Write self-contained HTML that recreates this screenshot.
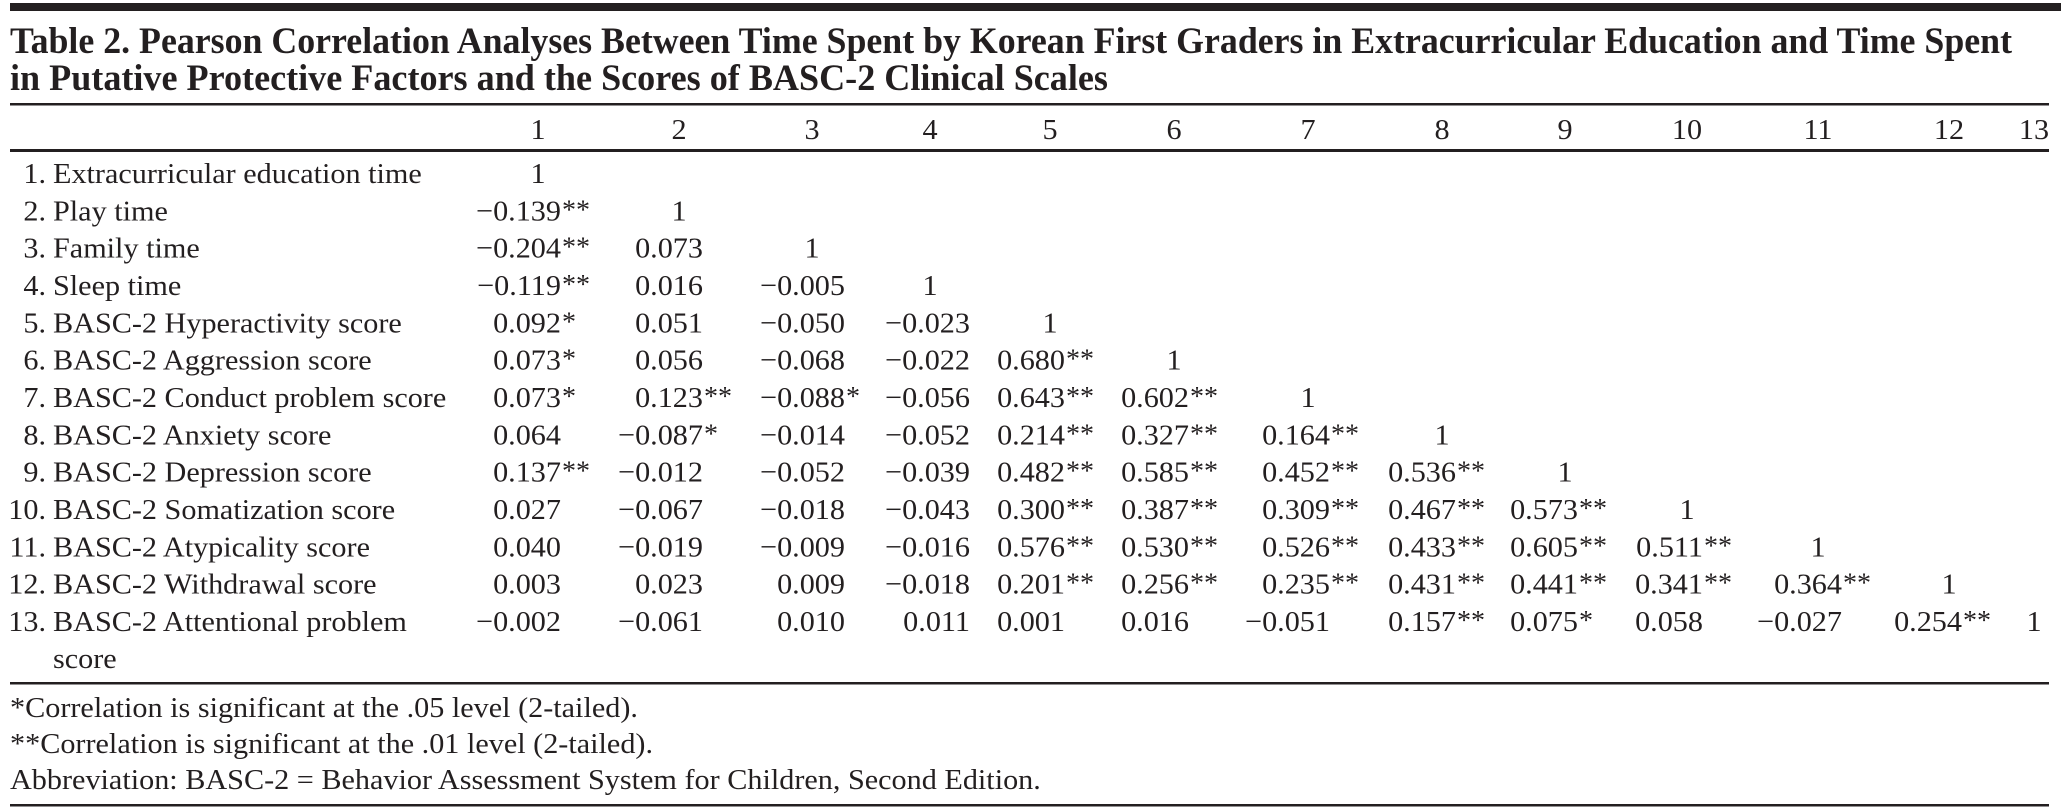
<!DOCTYPE html>
<html><head><meta charset="utf-8"><style>
html,body{margin:0;padding:0;background:#fff;}
svg{display:block;}
text{font-family:"Liberation Serif",serif;fill:#231f20;}
</style></head><body>
<svg id="tbl" width="2061" height="810" viewBox="0 0 2061 810" xmlns="http://www.w3.org/2000/svg">
<rect x="10" y="3" width="2051" height="8" fill="#231f20"/>
<text id="t1" x="10" y="53" font-size="37" font-weight="bold" textLength="2002" lengthAdjust="spacingAndGlyphs">Table 2. Pearson Correlation Analyses Between Time Spent by Korean First Graders in Extracurricular Education and Time Spent</text>
<text id="t2" x="10" y="90" font-size="37" font-weight="bold" textLength="1098" lengthAdjust="spacingAndGlyphs">in Putative Protective Factors and the Scores of BASC-2 Clinical Scales</text>
<rect x="10" y="103" width="2039" height="2.5" fill="#231f20"/>
<rect x="10" y="149" width="2039" height="3" fill="#231f20"/>
<rect x="10" y="682" width="2039" height="2.5" fill="#231f20"/>
<rect x="10" y="804" width="2039" height="2.5" fill="#231f20"/>
<g id="body"></g>
</svg>
<script>
const colHeaders = ["1","2","3","4","5","6","7","8","9","10","11","12","13"];
const rowNums = ["1.","2.","3.","4.","5.","6.","7.","8.","9.","10.","11.","12.","13."];
const rowLabels = ["Extracurricular education time","Play time","Family time","Sleep time","BASC-2 Hyperactivity score","BASC-2 Aggression score","BASC-2 Conduct problem score","BASC-2 Anxiety score","BASC-2 Depression score","BASC-2 Somatization score","BASC-2 Atypicality score","BASC-2 Withdrawal score","BASC-2 Attentional problem"];
const values = [
 [],
 ["−0.139**"],
 ["−0.204**","0.073"],
 ["−0.119**","0.016","−0.005"],
 ["0.092*","0.051","−0.050","−0.023"],
 ["0.073*","0.056","−0.068","−0.022","0.680**"],
 ["0.073*","0.123**","−0.088*","−0.056","0.643**","0.602**"],
 ["0.064","−0.087*","−0.014","−0.052","0.214**","0.327**","0.164**"],
 ["0.137**","−0.012","−0.052","−0.039","0.482**","0.585**","0.452**","0.536**"],
 ["0.027","−0.067","−0.018","−0.043","0.300**","0.387**","0.309**","0.467**","0.573**"],
 ["0.040","−0.019","−0.009","−0.016","0.576**","0.530**","0.526**","0.433**","0.605**","0.511**"],
 ["0.003","0.023","0.009","−0.018","0.201**","0.256**","0.235**","0.431**","0.441**","0.341**","0.364**"],
 ["−0.002","−0.061","0.010","0.011","0.001","0.016","−0.051","0.157**","0.075*","0.058","−0.027","0.254**"]
];
const footnotes = ["*Correlation is significant at the .05 level (2-tailed).","**Correlation is significant at the .01 level (2-tailed).","Abbreviation: BASC-2 = Behavior Assessment System for Children, Second Edition."];

const NS = "http://www.w3.org/2000/svg";
const g = document.getElementById("body");
const colCenter = [538,679,812,930,1050,1174,1308,1442,1565,1687,1818,1949,2034];
const colEdge = [561,703,845,970,1065,1189,1330,1456,1578,1703,1842,1962,2045];
const rowY = i => 183 + i*37.33;
const FS = 29;
let SX = 0.88;

function txt(s, x, y, anchor, name, size){
  const t = document.createElementNS(NS,"text");
  t.setAttribute("transform","translate("+x+","+y+") scale("+SX+",1)");
  t.setAttribute("font-size", size||FS);
  if(anchor) t.setAttribute("text-anchor",anchor);
  t.textContent = s;
  
  
  g.appendChild(t);
  return t;
}
(function(){
  const t = document.createElementNS(NS,"text");
  t.setAttribute("font-size",FS);
  t.textContent = rowLabels[0];
  g.appendChild(t);
  const w = t.getComputedTextLength();
  if (w > 0) SX = 369 / w;
  g.removeChild(t);
})();

colHeaders.forEach((h,j)=>{ txt(h, colCenter[j], 139, "middle", "column-header-"+h); });
rowLabels.forEach((lab,i)=>{
  txt(rowNums[i], 46, rowY(i), "end", "row-number-"+(i+1));
  txt(lab, 53, rowY(i), "start", "row-label-"+(i+1));
  values[i].forEach((v,j)=>{
    const m = v.match(/^([^*]+)(\**)$/);
    txt(m[1], colEdge[j], rowY(i), "end", "cell-r"+(i+1)+"-c"+(j+1));
    if(m[2]) txt(m[2], colEdge[j]+1, rowY(i)-2, "start", "significance-mark-r"+(i+1)+"-c"+(j+1), 27);
  });
  txt("1", colCenter[i], rowY(i), "middle", "diagonal-r"+(i+1));
});
txt("score", 53, 668, "start", "row-label-13-continued");
footnotes.forEach((f,k)=>{ txt(f, 10, 717 + k*36, "start", "footnote-"+(k+1)); });
</script>
</body></html>
